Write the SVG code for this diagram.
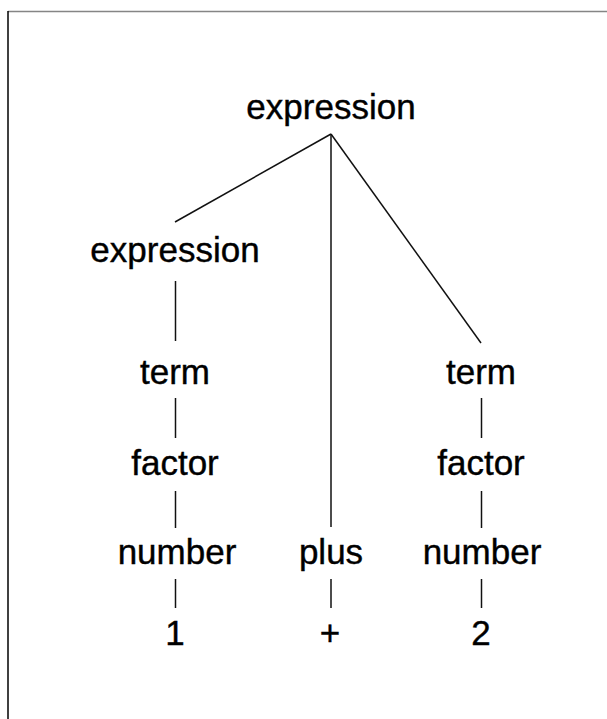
<svg xmlns="http://www.w3.org/2000/svg" width="607" height="719" viewBox="0 0 607 719">
  <style>
    .lbl { font-family: "Liberation Sans", Arial, sans-serif; font-size: 35px; fill: #000; stroke: #000; stroke-width: 0.4; text-anchor: middle; }
    .edge { stroke: #111; stroke-width: 1.5; fill: none; }
  </style>
  <rect x="0" y="0" width="607" height="719" fill="#fff"/>
  <line x1="8" y1="11.5" x2="607" y2="11.5" stroke="#858585" stroke-width="1.5"/>
  <line x1="8" y1="11" x2="8" y2="719" stroke="#000" stroke-width="1.5"/>
  <g id="connectors">
    <line class="edge" x1="331" y1="134" x2="175" y2="222"/>
    <line class="edge" x1="331" y1="134" x2="331" y2="527"/>
    <line class="edge" x1="331" y1="134" x2="481" y2="343"/>
    <line class="edge" x1="175.5" y1="281" x2="175.5" y2="341"/>
    <line class="edge" x1="175.5" y1="398" x2="175.5" y2="438"/>
    <line class="edge" x1="175.5" y1="491" x2="175.5" y2="528"/>
    <line class="edge" x1="175.5" y1="579" x2="175.5" y2="608"/>
    <line class="edge" x1="331" y1="579" x2="331" y2="608"/>
    <line class="edge" x1="481.5" y1="398" x2="481.5" y2="438"/>
    <line class="edge" x1="481.5" y1="491" x2="481.5" y2="528"/>
    <line class="edge" x1="481.5" y1="579" x2="481.5" y2="608"/>
  </g>
  <g id="n-expr-root"><text class="lbl" x="331" y="119">expression</text></g>
  <g id="n-expr-left"><text class="lbl" x="175" y="262">expression</text></g>
  <g id="n-term-left"><text class="lbl" x="175" y="384">term</text></g>
  <g id="n-factor-left"><text class="lbl" x="175" y="475">factor</text></g>
  <g id="n-number-left"><text class="lbl" x="177" y="564">number</text></g>
  <g id="n-one"><text class="lbl" x="175" y="645">1</text></g>
  <g id="n-plus"><text class="lbl" x="331" y="564">plus</text></g>
  <g id="n-plus-sign"><text class="lbl" x="330" y="645">+</text></g>
  <g id="n-term-right"><text class="lbl" x="481" y="384">term</text></g>
  <g id="n-factor-right"><text class="lbl" x="481" y="475">factor</text></g>
  <g id="n-number-right"><text class="lbl" x="482" y="564">number</text></g>
  <g id="n-two"><text class="lbl" x="481" y="645">2</text></g>
</svg>
